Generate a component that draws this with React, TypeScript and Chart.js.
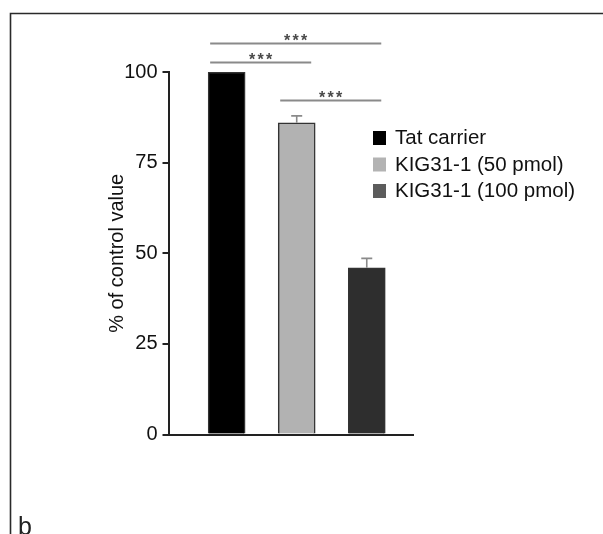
import React, { useEffect, useRef } from 'react';
import { Chart, registerables } from 'chart.js';

Chart.register(...registerables);

const categories = ['Tat carrier', 'KIG31-1 (50 pmol)', 'KIG31-1 (100 pmol)'];
const values = [100, 86, 46];
const errors = [0, 1.9, 2.6];
const barColors = ['#000000', '#b2b2b2', '#2e2e2e'];
const legendColors = ['#000000', '#b3b3b3', '#5c5c5c'];
const yTicks = [0, 25, 50, 75, 100];
const sigPairs = [[0, 2], [0, 1], [1, 2]];
const sigLevels = [108, 102.8, 92.3];
const sigLabels = ['***', '***', '***'];
const yTitle = '% of control value';
const panelLabel = 'b';

const FONT = "'Liberation Sans', Arial, Helvetica, sans-serif";

const annotations = {
  id: 'annotations',
  beforeDraw(chart: any) {
    const ctx = chart.ctx;
    ctx.save();
    ctx.fillStyle = '#ffffff';
    ctx.fillRect(0, 0, chart.width, chart.height);
    ctx.strokeStyle = '#2a2a2a';
    ctx.lineWidth = 1.6;
    ctx.beginPath();
    ctx.moveTo(10.5, chart.height);
    ctx.lineTo(10.5, 13.5);
    ctx.lineTo(chart.width, 13.5);
    ctx.stroke();
    ctx.restore();
  },
  afterDatasetsDraw(chart: any) {
    const ctx = chart.ctx;
    const meta = chart.getDatasetMeta(0);
    const ys = chart.scales.y;
    ctx.save();
    ctx.strokeStyle = '#8a8a8a';
    ctx.lineWidth = 1.6;
    values.forEach((v, i) => {
      if (!errors[i]) return;
      const x = meta.data[i].x;
      const yb = ys.getPixelForValue(v);
      const yt = ys.getPixelForValue(v + errors[i]);
      ctx.beginPath();
      ctx.moveTo(x, yb);
      ctx.lineTo(x, yt);
      ctx.moveTo(x - 5.5, yt);
      ctx.lineTo(x + 5.5, yt);
      ctx.stroke();
    });
    ctx.restore();
  },
  afterDraw(chart: any) {
    const ctx = chart.ctx;
    const meta = chart.getDatasetMeta(0);
    const ys = chart.scales.y;
    ctx.save();
    // significance brackets
    sigPairs.forEach(([a, b], k) => {
      const ea = meta.data[a];
      const eb = meta.data[b];
      const x1 = ea.x - ea.width / 2 + 2;
      const x2 = eb.x + eb.width / 2 - 4;
      const y = Math.round(ys.getPixelForValue(sigLevels[k])) + 0.5;
      ctx.strokeStyle = '#8a8a8a';
      ctx.lineWidth = 2;
      ctx.beginPath();
      ctx.moveTo(x1, y);
      ctx.lineTo(x2, y);
      ctx.stroke();
      const mid = (x1 + x2) / 2;
      const chars = sigLabels[k].split('');
      ctx.fillStyle = '#4a4a4a';
      ctx.font = `bold 16px ${FONT}`;
      ctx.textAlign = 'center';
      ctx.textBaseline = 'alphabetic';
      chars.forEach((c, j) => {
        ctx.fillText(c, mid + (j - (chars.length - 1) / 2) * 8.5, y + 2);
      });
    });
    // legend
    ctx.font = `20.5px ${FONT}`;
    ctx.textAlign = 'left';
    ctx.textBaseline = 'alphabetic';
    categories.forEach((c, i) => {
      const cy = 138 + i * 26.5;
      ctx.fillStyle = legendColors[i];
      ctx.fillRect(373, cy - 7, 13, 14);
      ctx.fillStyle = '#111';
      ctx.fillText(c, 395, cy + 6);
    });
    // panel label
    ctx.font = `25px ${FONT}`;
    ctx.fillStyle = '#222';
    ctx.fillText(panelLabel, 18, 535);
    ctx.restore();
  },
};

export default function App() {
  const ref = useRef<HTMLCanvasElement>(null);
  useEffect(() => {
    if (!ref.current) return;
    Chart.defaults.font.family = FONT;
    const chart = new Chart(ref.current, {
      type: 'bar',
      data: {
        datasets: [
          {
            label: 'values',
            data: values.map((v, i) => ({ x: i, y: v })),
            backgroundColor: barColors,
            borderColor: '#333333',
            borderWidth: 1.5,
            barThickness: 37,
          },
        ],
      },
      options: {
        animation: false,
        responsive: false,
        layout: { padding: { left: 92, top: 72, right: 190, bottom: 99.5 } },
        plugins: { legend: { display: false }, tooltip: { enabled: false } },
        scales: {
          x: {
            type: 'linear',
            offset: false,
            min: -0.83,
            max: 2.66,
            ticks: { display: false },
            grid: { display: false, drawTicks: false, offset: false },
            border: { display: true, color: '#222', width: 2 },
            afterFit: (s: any) => {
              s.height = 0;
            },
          },
          y: {
            min: 0,
            max: 100,
            afterBuildTicks: (s: any) => {
              s.ticks = yTicks.map((v) => ({ value: v }));
            },
            ticks: { font: { size: 20 }, color: '#111', padding: 5 },
            grid: {
              display: true,
              drawOnChartArea: false,
              drawTicks: true,
              tickLength: 6,
              color: '#222',
              lineWidth: 2,
            },
            border: { display: true, color: '#222', width: 2 },
            title: {
              display: true,
              text: yTitle,
              font: { size: 20 },
              color: '#111',
              padding: { top: 13, bottom: 0 },
            },
            afterFit: (s: any) => {
              s.width = 76.5;
            },
          },
        },
      } as any,
      plugins: [annotations],
    });
    return () => chart.destroy();
  }, []);
  return (
    <div style={{ position: 'absolute', left: 0, top: 0, width: 603, height: 534 }}>
      <canvas ref={ref} width={603} height={534} style={{ display: 'block' }} />
    </div>
  );
}
